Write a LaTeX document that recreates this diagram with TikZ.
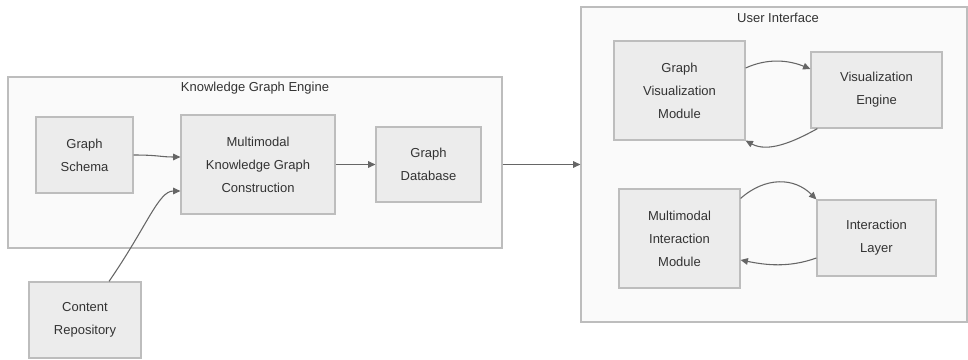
\documentclass[tikz,border=0pt]{standalone}
\usepackage{fontspec}
\setmainfont{Liberation Sans}
\usetikzlibrary{arrows.meta,calc}
\definecolor{nodefill}{HTML}{ECECEC}
\definecolor{nodeline}{HTML}{BDBDBD}
\definecolor{clfill}{HTML}{FAFAFA}
\definecolor{clline}{HTML}{BDBDBD}
\definecolor{txt}{HTML}{333333}
\definecolor{edge}{HTML}{666666}
\begin{document}
\begin{tikzpicture}[x=0.75pt,y=-0.75pt,
  box/.style={draw=nodeline,fill=nodefill,line width=0.9pt,inner sep=0pt,align=center,text=txt,
    font=\fontsize{9.75pt}{17.25pt}\selectfont},
  cluster/.style={draw=clline,fill=clfill,line width=0.9pt,inner sep=0pt},
  ttl/.style={text=txt,font=\fontsize{9.75pt}{12pt}\selectfont,inner sep=0pt},
  link/.style={draw=edge,line width=0.8pt,-{Triangle[length=5.5pt,width=5pt]}}]
\useasboundingbox (0,0) rectangle (968,360);
% clusters
\node[cluster,minimum width=370.5pt,minimum height=128.25pt] (kge) at (255,162.5) {};
\node[cluster,minimum width=289.5pt,minimum height=236.25pt] (ui) at (774,164.5) {};
\node[ttl] (kgeT) at (255,88) {Knowledge Graph Engine};
\node[ttl] (uiT) at (778,18) {User Interface};
% nodes
\node[box,minimum width=72.75pt,minimum height=57pt] (gs) at (84.5,155) {Graph\\Schema};
\node[box,minimum width=115.5pt,minimum height=74.25pt] (mkgc) at (258,164.5) {Multimodal\\Knowledge Graph\\Construction};
\node[box,minimum width=78.75pt,minimum height=56.25pt] (gd) at (428.5,164.5) {Graph\\Database};
\node[box,minimum width=84pt,minimum height=57pt] (cr) at (85,320) {Content\\Repository};
\node[box,minimum width=98.25pt,minimum height=74.25pt] (gvm) at (679.5,90.5) {Graph\\Visualization\\Module};
\node[box,minimum width=98.25pt,minimum height=57pt] (ve) at (876.5,90) {Visualization\\Engine};
\node[box,minimum width=90.75pt,minimum height=74.25pt] (mim) at (679.5,238.5) {Multimodal\\Interaction\\Module};
\node[box,minimum width=89.25pt,minimum height=57pt] (il) at (876.5,238) {Interaction\\Layer};
% connectors
\draw[link] (gs.east) .. controls +(25,0) and +(-20,0) .. ($(mkgc.west)+(0,-7.5)$);
\draw[link] ($(cr.north)+(24,0)$) .. controls +(38,-55) and +(-22,0) .. ($(mkgc.west)+(0,26.5)$);
\draw[link] (mkgc.east) -- (gd.west);
\draw[link] (kge.east |- ui.west) -- (ui.west);
\draw[link] ($(gvm.east)+(0,-22.5)$) .. controls +(22,-10) and +(-22,-9) .. ($(ve.west)+(0,-21)$);
\draw[link] ($(ve.south west)+(7,0)$) .. controls +(-25,14) and +(22,12) .. (gvm.south east);
\draw[link] ($(mim.north east)+(0,10)$) .. controls +(25,-22) and +(-22,-22) .. (il.north west);
\draw[link] ($(il.west)+(0,20)$) .. controls +(-28,10) and +(25,5) .. ($(mim.east)+(0,21.5)$);
\end{tikzpicture}
\end{document}
